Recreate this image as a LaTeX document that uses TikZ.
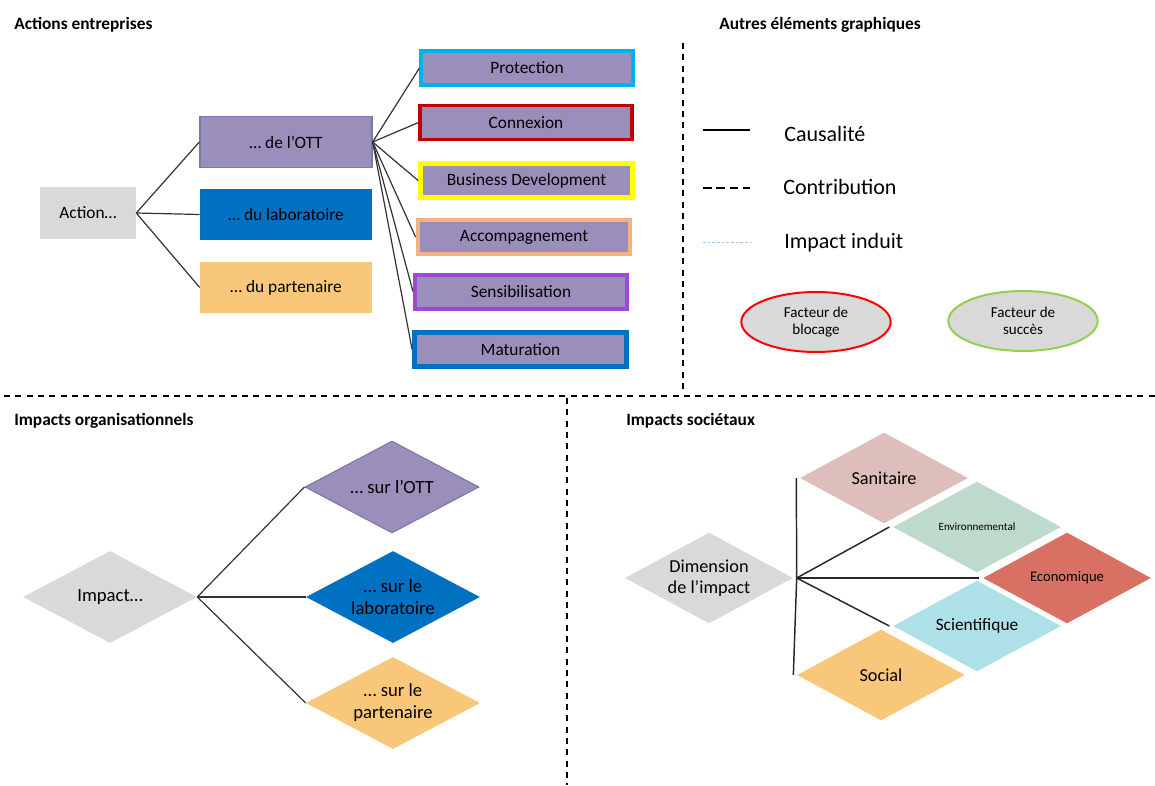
\documentclass[tikz,border=0pt]{standalone}
\usepackage{fontspec}
\setmainfont{Carlito}
\usepackage{tikz}
\usetikzlibrary{positioning,shapes.geometric,arrows.meta}

\definecolor{ottpurple}{RGB}{153,143,186}
\definecolor{ottborder}{RGB}{128,116,170}
\definecolor{labblue}{RGB}{0,112,192}
\definecolor{partorange}{RGB}{249,199,122}
\definecolor{boxgray}{RGB}{217,217,217}
\definecolor{protcyan}{RGB}{0,176,240}
\definecolor{connred}{RGB}{192,0,0}
\definecolor{bizyellow}{RGB}{255,255,0}
\definecolor{accpeach}{RGB}{244,177,131}
\definecolor{sensviolet}{RGB}{160,72,214}
\definecolor{sanpink}{RGB}{221,190,186}
\definecolor{envgreen}{RGB}{190,218,204}
\definecolor{ecored}{RGB}{216,113,99}
\definecolor{scicyan}{RGB}{174,224,231}
\definecolor{induitblue}{RGB}{157,195,230}
\definecolor{blocred}{RGB}{255,0,0}
\definecolor{succgreen}{RGB}{146,208,80}

\begin{document}
\begin{tikzpicture}[x=0.75pt,y=-0.75pt,
    titletext/.style={font=\bfseries\fontsize{13}{15}\selectfont,anchor=base west,inner sep=0pt},
    catbox/.style={rectangle,minimum width=129pt,minimum height=38pt},
    actbox/.style={rectangle,fill=ottpurple,minimum width=159pt,minimum height=25.5pt},
    orgdiam/.style={diamond,aspect=1.87,minimum width=130.5pt,minimum height=69pt},
    socdiam/.style={diamond,aspect=1.84,draw=white,line width=1.5pt,minimum width=130pt,minimum height=70.5pt},
    factor/.style={ellipse,fill=boxgray,line width=1.5pt,minimum width=112pt,minimum height=45pt,
                   font=\fontsize{11.3}{13}\selectfont},
    sepline/.style={draw=black,line width=1.5pt,dash pattern=on 4.5pt off 4pt},
    legtext/.style={anchor=west,inner sep=0pt,font=\fontsize{16.5}{19}\selectfont}]
\useasboundingbox (0,0) rectangle (1155,785);

% separators
\draw[sepline] (4,396) -- (1155,396);
\draw[sepline] (683,43) -- (683,394);
\draw[sepline] (567,398) -- (567,785);

% titles
\node[titletext] (tAct) at (14,29) {Actions entreprises};
\node[titletext] (tAutres) at (719,29) {Autres éléments graphiques};
\node[titletext] (tOrg) at (14,425) {Impacts organisationnels};
\node[titletext] (tSoc) at (626,425) {Impacts sociétaux};

% actions entreprises
\begin{scope}[every node/.style={align=center,inner sep=0pt,font=\fontsize{13}{15.5}\selectfont}]
    \node[rectangle,fill=boxgray,minimum width=72pt,minimum height=39pt] (action) at (88,213) {Action…};
    \node[catbox,fill=ottpurple,draw=ottborder,line width=1pt] (ott) at (286,142) {… de l’OTT};
    \node[catbox,fill=labblue] (lab) at (286,214.5) {… du laboratoire};
    \node[catbox,fill=partorange] (part) at (286,287.5) {… du partenaire};
    \node[actbox,draw=protcyan,line width=2.3pt] (prot) at (527,68) {Protection};
    \node[actbox,draw=connred,line width=2.3pt] (conn) at (526,122.5) {Connexion};
    \node[actbox,draw=bizyellow,line width=3.6pt] (biz) at (526.5,180.5) {Business Development};
    \node[actbox,draw=accpeach,line width=3.6pt] (acc) at (524,237) {Accompagnement};
    \node[actbox,draw=sensviolet,line width=3pt] (sens) at (521,291.5) {Sensibilisation};
    \node[actbox,draw=labblue,line width=3.6pt] (mat) at (520.5,349.5) {Maturation};
\end{scope}

\begin{scope}[every edge/.style={draw=black!80,line width=0.9pt}]
    \path [-] (action.east) edge node {} (ott.west);
    \path [-] (action.east) edge node {} (lab.west);
    \path [-] (action.east) edge node {} (part.west);
    \path [-] (ott.east) edge node {} (prot.west);
    \path [-] (ott.east) edge node {} (conn.west);
    \path [-] (ott.east) edge node {} (biz.west);
    \path [-] (ott.east) edge node {} (acc.west);
    \path [-] (ott.east) edge node {} (sens.west);
    \path [-] (ott.east) edge node {} (mat.west);
\end{scope}

% autres elements graphiques
\coordinate (causA) at (703,130);
\coordinate (causB) at (750,130);
\coordinate (contA) at (703,188);
\coordinate (contB) at (750,188);
\coordinate (indA) at (703,242);
\coordinate (indB) at (750,242);
\draw[line width=1.5pt,black] (causA) -- (causB);
\draw[line width=1.5pt,black,dash pattern=on 6.4pt off 3.7pt] (contA) -- (contB);
\draw[line width=0.6pt,induitblue,dash pattern=on 2pt off 1.5pt] (indA) -- (indB);
\node[legtext] (lCaus) at (784,134) {Causalité};
\node[legtext] (lCont) at (783,187) {Contribution};
\node[legtext] (lInd) at (784,243) {Impact induit};
\node[factor,draw=blocred,align=center] (bloc) at (816,322) {Facteur de\\blocage};
\node[factor,draw=succgreen,align=center] (succ) at (1023,321) {Facteur de\\succès};

% impacts organisationnels
\begin{scope}[every node/.style={align=center,inner sep=0pt,font=\fontsize{14}{16.5}\selectfont}]
    \node[orgdiam,fill=boxgray] (impact) at (110,597) {Impact…};
    \node[orgdiam,fill=ottpurple,draw=ottborder,line width=0.8pt] (surott) at (392,487) {… sur l’OTT};
    \node[orgdiam,fill=labblue] (surlab) at (393,597) {… sur le\\laboratoire};
    \node[orgdiam,fill=partorange] (surpart) at (393,703) {… sur le\\partenaire};
\end{scope}

\begin{scope}[every edge/.style={draw=black!80,line width=0.9pt}]
    \path [-] (impact.east) edge node {} (surott.west);
    \path [-] (impact.east) edge node {} (surlab.west);
    \path [-] (impact.east) edge node {} (surpart.west);
\end{scope}

% impacts societaux
\begin{scope}[every node/.style={align=center,inner sep=0pt,font=\fontsize{13.7}{16}\selectfont}]
    \node[socdiam,fill=boxgray] (dim) at (709,578) {Dimension\\de l’impact};
    \node[socdiam,fill=sanpink] (sani) at (884,478) {Sanitaire};
    \node[socdiam,fill=envgreen,font=\fontsize{8.3}{10}\selectfont] (envi) at (977,527) {Environnemental};
    \node[socdiam,fill=ecored,font=\fontsize{11}{13}\selectfont] (eco) at (1067,578) {Economique};
    \node[socdiam,fill=scicyan,font=\fontsize{13}{15}\selectfont] (sci) at (977,626) {Scientifique};
    \node[socdiam,fill=partorange] (soc) at (881,675) {Social};
\end{scope}

\begin{scope}[every edge/.style={draw=black!85,line width=1.1pt}]
    \path [-] (dim.east) edge node {} (sani.west);
    \path [-] (dim.east) edge node {} (envi.west);
    \path [-] (dim.east) edge node {} (eco.west);
    \path [-] (dim.east) edge node {} (sci.west);
    \path [-] (dim.east) edge node {} (soc.west);
\end{scope}
\end{tikzpicture}
\end{document}
